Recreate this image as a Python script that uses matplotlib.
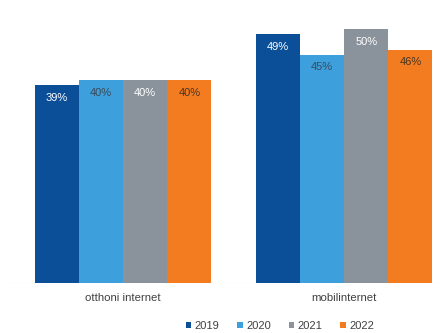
import matplotlib.pyplot as plt
import numpy as np
from matplotlib.patches import Patch

categories = ['otthoni internet', 'mobilinternet']
years = ['2019', '2020', '2021', '2022']
values = {
    '2019': [39, 49],
    '2020': [40, 45],
    '2021': [40, 50],
    '2022': [40, 46],
}
colors = ['#0a4f98', '#3d9fdb', '#8a929c', '#f47c20']
text_colors = ['white', '#3b4a5a', 'white', '#4a3520']

plt.rcParams['font.family'] = ['Liberation Sans', 'DejaVu Sans']

fig = plt.figure(figsize=(4.46, 3.33), dpi=100)
ax = fig.add_axes([5 / 446, 50 / 333, 435 / 446, 279 / 333])

x = np.arange(len(categories))
w = 0.2
for i, yr in enumerate(years):
    pos = x - 0.3 + i * w
    bars = ax.bar(pos, values[yr], width=w, color=colors[i], zorder=2)
    for b, v in zip(bars, values[yr]):
        ax.text(b.get_x() + w / 2, v - 2.5, f'{v}%', ha='center', va='center',
                fontsize=8, color=text_colors[i])

ax.set_xlim(-0.534, 1.434)
ax.set_ylim(0, 55)
ax.axhline(0, color='#d9d9d9', lw=0.8, zorder=1)
for s in ax.spines.values():
    s.set_visible(False)
ax.set_yticks([])
ax.set_xticks(x)
ax.set_xticklabels(categories, fontsize=8.2, color='#404040')
ax.tick_params(axis='x', length=0, pad=7)

handles = [Patch(facecolor=c) for c in colors]
fig.legend(handles, years, loc='center', bbox_to_anchor=(280 / 446, 7 / 333),
           ncol=4, frameon=False, fontsize=8, handlelength=0.5, handleheight=0.5,
           handletextpad=0.3, columnspacing=1.6, labelcolor='#404040')

fig.savefig('out.png', dpi=100)
